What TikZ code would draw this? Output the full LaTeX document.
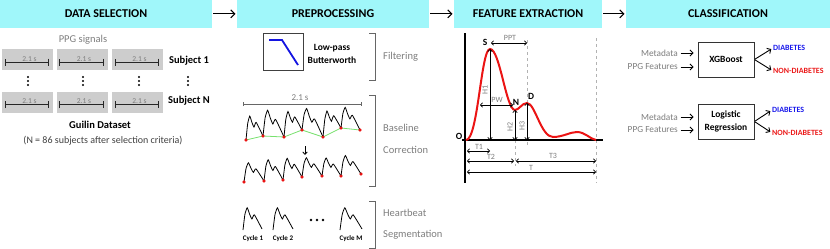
\documentclass[tikz,border=0pt]{standalone}
\usepackage{fontspec}
\setmainfont{Carlito}
\usepackage{tikz}
\usetikzlibrary{
  arrows.meta,
  positioning, calc
}
\definecolor{hdrcyan}{RGB}{160,247,250}
\definecolor{sigbg}{RGB}{205,205,205}
\definecolor{txtgray}{RGB}{125,125,125}
\definecolor{filtblue}{RGB}{20,20,225}
\definecolor{diabblue}{RGB}{25,25,235}
\definecolor{nondred}{RGB}{235,25,25}
\definecolor{basegreen}{RGB}{120,225,110}
\definecolor{dotred}{RGB}{235,20,20}
\newcommand{\fs}[1]{\fontsize{#1}{#1}\selectfont}
% one PPG beat from #1 to #2, peak height #3
\newcommand{\beat}[3]{%
  \draw[wave] plot[smooth,tension=0.3] coordinates {(#1)
    ($(#1)!0.1!(#2)+(0,-0.7*#3)$) ($(#1)!0.22!(#2)+(0,-#3)$)
    ($(#1)!0.35!(#2)+(0,-0.7*#3)$) ($(#1)!0.47!(#2)+(0,-0.48*#3)$)
    ($(#1)!0.6!(#2)+(0,-0.66*#3)$) (#2)};}
\tikzset{
  hdrnode/.style={rectangle,fill=hdrcyan,minimum height=27.7pt,inner sep=0pt,outer sep=0pt,font=\fs{12}\bfseries},
  hdrarr/.style={-{Straight Barb[length=4pt,width=8pt]},line width=1.1pt,shorten <=1pt,shorten >=1.5pt},
  sigbox/.style={rectangle,fill=sigbg,minimum width=51pt,minimum height=21pt,inner sep=0pt},
  spanbar/.style={{Bar[width=7pt]}-{Bar[width=7pt]},line width=0.9pt,color=black!85},
  spanlbl/.style={font=\fs{7.5},text=txtgray,inner sep=0.4pt,anchor=south},
  subjlbl/.style={font=\fs{10.5}\bfseries,inner sep=0pt},
  graytxt/.style={font=\fs{10.5},text=txtgray,inner sep=0pt},
  stagetxt/.style={font=\fs{10.5},text=txtgray,anchor=west,inner sep=0pt},
  brk/.style={draw=black!60,line width=0.9pt},
  wave/.style={line width=0.8pt,color=black},
  basedot/.style={circle,fill=dotred,inner sep=0pt,minimum size=2.8pt},
  cyclbl/.style={font=\fs{7}\bfseries,inner sep=0pt},
  ppgcurve/.style={line width=2pt,color=dotred},
  guide/.style={dashed,color=gray!60,line width=0.6pt},
  dimarr/.style={{Straight Barb[length=2.2pt,width=4.5pt]}-{Straight Barb[length=2.2pt,width=4.5pt]},line width=0.7pt},
  dimlbl/.style={font=\fs{8},text=txtgray,inner sep=0pt},
  ptlbl/.style={font=\fs{9.5}\bfseries,inner sep=0pt},
  clsbox/.style={rectangle,draw=black!80,line width=0.8pt,minimum width=56pt,minimum height=35pt,align=center,font=\fontsize{9.5}{13}\selectfont\bfseries},
  inlbl/.style={font=\fs{9.3},text=txtgray,anchor=east,inner sep=0pt},
  inarr/.style={-{Straight Barb[length=3pt,width=6pt]},line width=0.9pt,shorten <=2.5pt,shorten >=4pt},
  outarr/.style={-{Straight Barb[length=3pt,width=6pt]},line width=0.9pt,shorten <=0.5pt,shorten >=2pt},
  diablbl/.style={font=\fs{8}\bfseries,text=diabblue,anchor=west,inner sep=0pt},
  nondlbl/.style={font=\fs{8}\bfseries,text=nondred,anchor=west,inner sep=0pt}
}
\begin{document}
\begin{tikzpicture}[x=1pt,y=-1pt]
  \useasboundingbox (0,0) rectangle (830,249);

  % stage headers
  \node[hdrnode,minimum width=212pt,anchor=north west] (hdata) at (0,0) {DATA SELECTION};
  \node[hdrnode,minimum width=192pt,right=25pt of hdata] (hprep) {PREPROCESSING};
  \node[hdrnode,minimum width=148pt,right=25pt of hprep] (hfeat) {FEATURE EXTRACTION};
  \node[hdrnode,minimum width=204pt,right=24pt of hfeat] (hcls) {CLASSIFICATION};
  \draw[hdrarr] (hdata)--(hprep); \draw[hdrarr] (hprep)--(hfeat);
  \draw[hdrarr] (hfeat)--(hcls);

  % data selection
  \node[graytxt] (ppgsig) at (83,40) {PPG signals};
  \foreach \row/\yy in {1/59.5,2/102}{
    \foreach \col/\xx in {1/27.5,2/82,3/137.5}{
      \node[sigbox] (s\row\col) at (\xx,\yy) {};
      \draw[spanbar] ($(s\row\col.west)+(3,2.5)$) -- ($(s\row\col.east)+(-4,2.5)$);
      \node[spanlbl] at ($(s\row\col.center)+(2,2.3)$) {2.1 s};
    }
  }
  \node[subjlbl] (subj1) at (189,61) {Subject 1};
  \node[subjlbl] (subjN) at (189,101) {Subject N};
  \foreach \xx in {28,83,139,188}
    \foreach \yy in {77,81,85}
      \fill (\xx,\yy) circle (1.1pt);
  \node[font=\fs{10.5}\bfseries,inner sep=0pt] (guilin) at (100,125) {Guilin Dataset};
  \node[font=\fs{10},text=black!75,inner sep=0pt] (ncount) at (103,141) {(N = 86 subjects after selection criteria)};

  % preprocessing: filtering
  \node[rectangle,draw=black!75,line width=0.7pt,minimum width=40pt,minimum height=37pt] (fbox) at (283,51.5) {};
  \draw[filtblue,line width=1.8pt] (269,40) -- (282,40) -- (298,65);
  \node[font=\fontsize{9.5}{13}\selectfont\bfseries,align=center,inner sep=0pt] (lowpass) at (332,53.5) {Low-pass\\Butterworth};
  \draw[brk] (369,33) -| (375,80) -- (369,80);
  \node[stagetxt] (filt) at (383,57) {Filtering};

  % preprocessing: baseline correction
  \draw[{Bar[width=4pt]}-{Bar[width=4pt]},line width=0.7pt,color=black!60] (243,104) -- (362,104);
  \node[dimlbl,font=\fs{9}] at (300,97.5) {2.1 s};
  \foreach \i/\p in {0/{246,140},1/{263,136},2/{284,137},3/{302,130},4/{323,137},5/{341,128},6/{360,130}}
    \coordinate (t\i) at (\p);
  \draw[basegreen,line width=0.8pt] (t0)--(t1)--(t2)--(t3)--(t4)--(t5)--(t6);
  \foreach \i/\j/\h in {0/1/23,1/2/26,2/3/24,3/4/23,4/5/24,5/6/21}
    \beat{t\i}{t\j}{\h}
  \foreach \i in {0,...,6} \node[basedot] at (t\i) {};
  \draw[-{Straight Barb[length=2.5pt,width=4.5pt]},line width=0.8pt] (305,146) -- (305,155);
  \foreach \i/\p in {0/{244,182},1/{264,181},2/{283,180},3/{302,177},4/{322,176},5/{341,176},6/{361,174}}
    \coordinate (b\i) at (\p);
  \foreach \i/\j/\h in {0/1/19,1/2/21,2/3/21,3/4/19,4/5/18,5/6/20}
    \beat{b\i}{b\j}{\h}
  \foreach \i in {0,...,6} \node[basedot] at (b\i) {};
  \draw[brk] (369,95) -| (375,186) -- (369,186);
  \node[stagetxt] (base) at (383,128) {Baseline};
  \node[stagetxt] (corr) at (383,150) {Correction};

  % preprocessing: heartbeat segmentation
  \coordinate (c1a) at (243,230); \coordinate (c1b) at (262,229);
  \coordinate (c2a) at (273,230); \coordinate (c2b) at (293,229);
  \coordinate (cMa) at (340,230); \coordinate (cMb) at (362,229);
  \beat{c1a}{c1b}{22} \beat{c2a}{c2b}{22} \beat{cMa}{cMb}{22}
  \foreach \xx in {311,317,323} \fill (\xx,220) circle (1.3pt);
  \node[cyclbl] (cyc1) at (253,239) {Cycle 1};
  \node[cyclbl] (cyc2) at (283,239) {Cycle 2};
  \node[cyclbl] (cycM) at (351,239) {Cycle M};
  \draw[brk] (369,201) -| (375,248) -- (369,248);
  \node[stagetxt] (heart) at (383,213) {Heartbeat};
  \node[stagetxt] (segm) at (383,235) {Segmentation};

  % feature extraction
  \coordinate (pO) at (466,140); \coordinate (pS) at (490,49);
  \coordinate (pN) at (515,110); \coordinate (pD) at (527,103);
  \coordinate (pE) at (596,140);
  \draw[guide] (527,40) -- (527,145);
  \draw[guide] (596,38) -- (596,183);
  \draw[guide] (515,140) -- (515,166);
  \draw[line width=1.3pt] (465,33) -- (465,183);
  \draw[line width=1.3pt] (462,140) -- (603,140);
  \draw[ppgcurve] (pO) .. controls (478,140) and (481,49) .. (pS)
    .. controls (500,49) and (506,110) .. (pN)
    .. controls (519,110) and (522,103) .. (pD)
    .. controls (535,103) and (541,137) .. (553,137)
    .. controls (563,137) and (570,132) .. (577,132)
    .. controls (585,132) and (590,139) .. (pE);
  \draw[dimarr] (pS) -- (pS |- pO);
  \draw[dimarr] (pN) -- (pN |- pO);
  \draw[dimarr] (pD) -- (pD |- pO);
  \draw[dimarr] (491,43) -- (527,43);
  \draw[dimarr] (480,105) -- (513,105);
  \draw[dimarr] (467,151) -- (490,151);
  \draw[dimarr] (467,161) -- (514,161);
  \draw[dimarr] (516,161) -- (596,161);
  \draw[dimarr] (467,172) -- (596,172);
  \node[ptlbl] at (459,136) {O};
  \node[ptlbl] at (485,42) {S};
  \node[ptlbl] at (516,102) {N};
  \node[ptlbl] at (531,96) {D};
  \node[dimlbl] at (510,38) {PPT};
  \node[dimlbl] at (497,100) {PW};
  \node[dimlbl,rotate=90] at (485,90) {H1};
  \node[dimlbl,rotate=90] at (510,127) {H2};
  \node[dimlbl,rotate=90] at (522,126) {H3};
  \node[dimlbl] at (479,147) {T1};
  \node[dimlbl] at (491,157) {T2};
  \node[dimlbl] at (553,156) {T3};
  \node[dimlbl] at (531,168) {T};

  % classification
  \node[clsbox] (xgb) at (726,59.5) {XGBoost};
  \node[inlbl] (meta1) at (678,53) {Metadata};
  \node[inlbl] (feat1) at (678,67) {PPG Features};
  \node[diablbl] (diab1) at (773,48) {DIABETES};
  \node[nondlbl] (nond1) at (773,71) {NON-DIABETES};
  \draw[inarr] (meta1.east) -- (meta1.east -| xgb.west);
  \draw[inarr] (feat1.east) -- (feat1.east -| xgb.west);
  \draw[outarr] (xgb.east) -- (diab1.west);
  \draw[outarr] (xgb.east) -- (nond1.west);

  \node[clsbox] (logreg) at (726,121.5) {Logistic\\Regression};
  \node[inlbl] (meta2) at (678,117) {Metadata};
  \node[inlbl] (feat2) at (678,130) {PPG Features};
  \node[diablbl] (diab2) at (772,110) {DIABETES};
  \node[nondlbl] (nond2) at (772,133) {NON-DIABETES};
  \draw[inarr] (meta2.east) -- (meta2.east -| logreg.west);
  \draw[inarr] (feat2.east) -- (feat2.east -| logreg.west);
  \draw[outarr] (logreg.east) -- (diab2.west);
  \draw[outarr] (logreg.east) -- (nond2.west);
\end{tikzpicture}
\end{document}
